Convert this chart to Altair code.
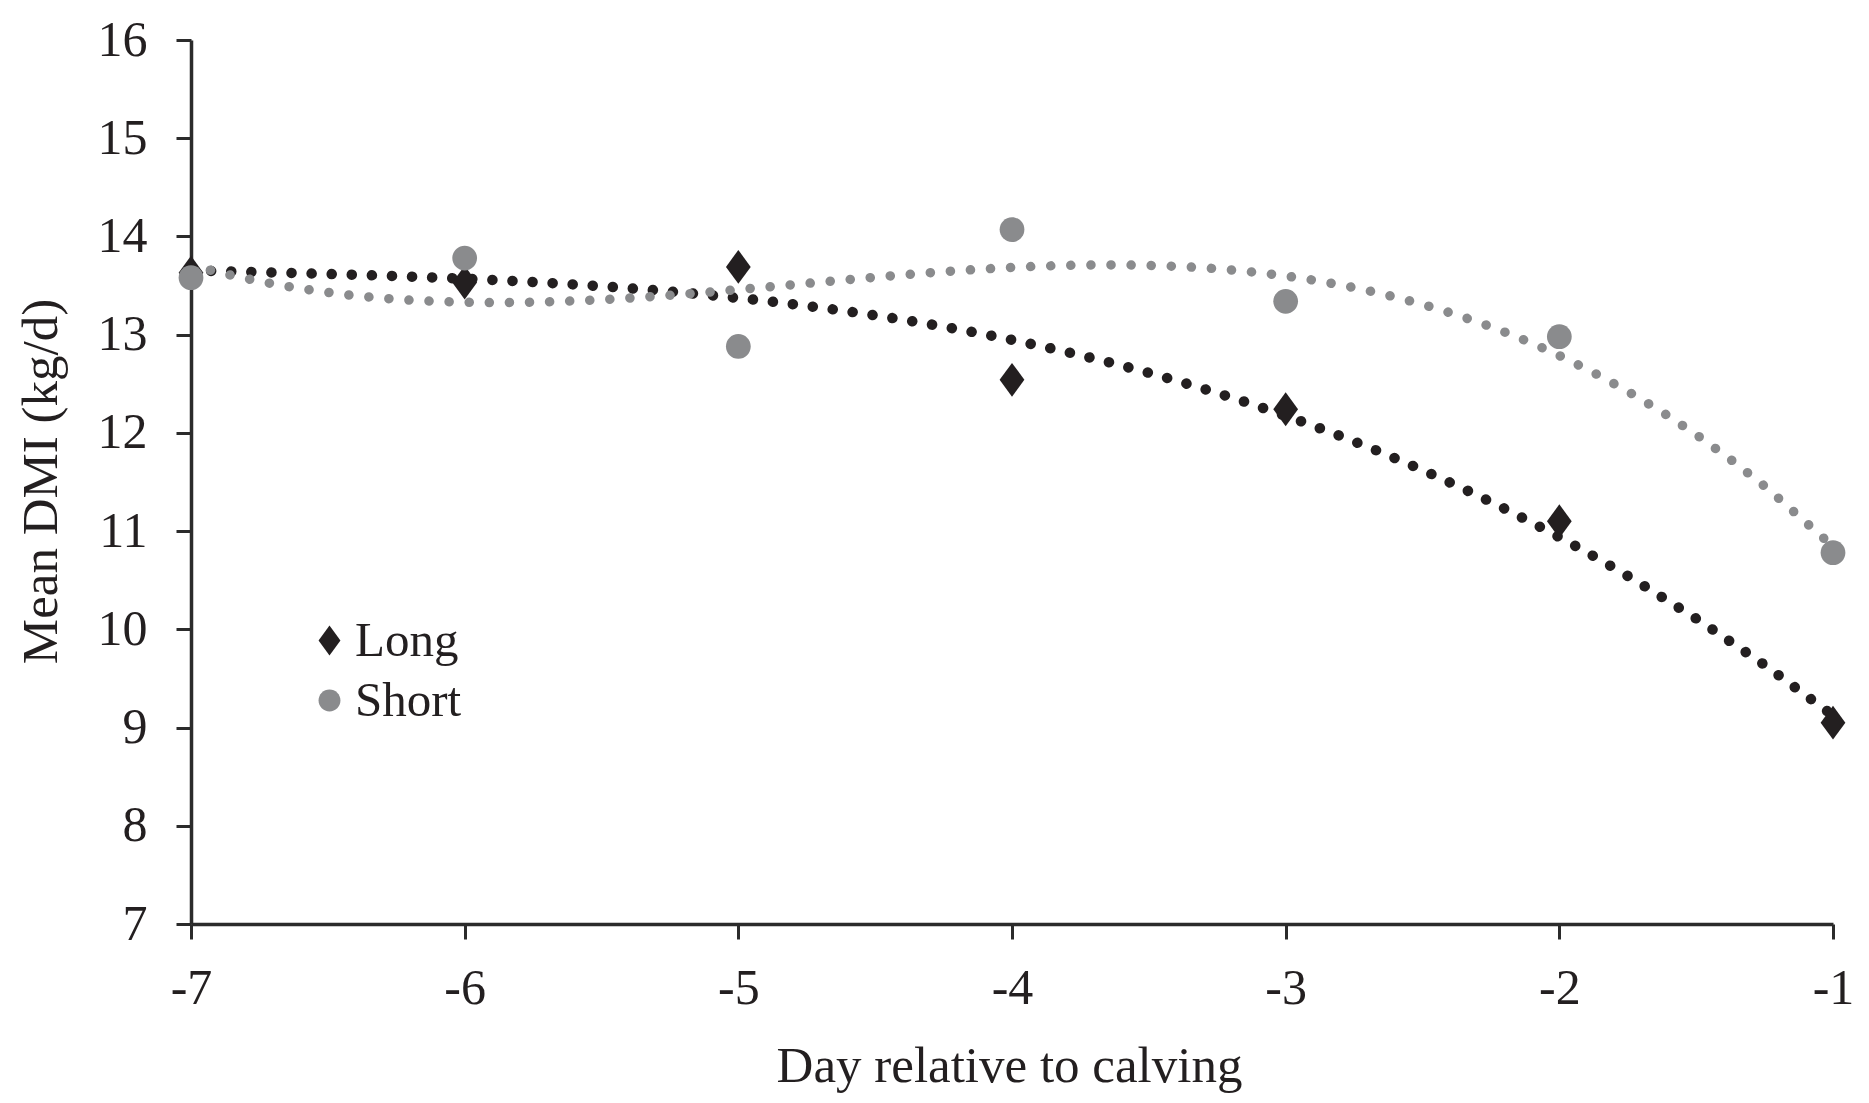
import altair as alt
import pandas as pd

# ---- data ----
days = [-7, -6, -5, -4, -3, -2, -1]
long_dmi = [13.63, 13.53, 13.69, 12.54, 12.24, 11.10, 9.05]
short_dmi = [13.58, 13.78, 12.88, 14.07, 13.34, 12.98, 10.78]
series_names = ["Long", "Short"]
x_ticks = [-7, -6, -5, -4, -3, -2, -1]
y_ticks = [7, 8, 9, 10, 11, 12, 13, 14, 15, 16]

df = pd.DataFrame({
    "day": days + days,
    "dmi": long_dmi + short_dmi,
    "series": [series_names[0]] * len(days) + [series_names[1]] * len(days),
})

BLACK = "#231f20"
GREY = "#8a8b8d"
AXIS = "#2b2b2b"
FONT = "Liberation Serif"

diamond = "M0,-1L0.73,0L0,1L-0.73,0Z"
circle = "M0.73,0A0.73,0.73 0 1,1 -0.73,0A0.73,0.73 0 1,1 0.73,0Z"

x = alt.X(
    "day:Q",
    scale=alt.Scale(domain=[-7, -1], nice=False, zero=False),
    axis=alt.Axis(
        values=x_ticks, title="Day relative to calving", labelPadding=24,
        labelFlush=False, labelExpr="toString(datum.value)",
        titleX=818, titleY=157, titleBaseline="alphabetic", titleAlign="center",
    ),
)
y = alt.Y(
    "dmi:Q",
    scale=alt.Scale(domain=[7, 16], nice=False, zero=False),
    axis=alt.Axis(
        values=y_ticks, title="Mean DMI (kg/d)", labelPadding=29,
        labelFlush=False, labelExpr="toString(datum.value)",
        titleX=-135, titleY=441, titleAngle=270,
        titleBaseline="alphabetic", titleAlign="center",
    ),
)

base = alt.Chart(df)

trend_long = (
    base.transform_filter(alt.datum.series == "Long")
    .transform_regression("day", "dmi", method="poly", order=3, extent=[-7, -1])
    .mark_line(color=BLACK, strokeWidth=10.5, strokeDash=[0.1, 20], strokeCap="round")
    .encode(x=x, y=y)
)
trend_short = (
    base.transform_filter(alt.datum.series == "Short")
    .transform_regression("day", "dmi", method="poly", order=3, extent=[-7, -1])
    .mark_line(color=GREY, strokeWidth=9.5, strokeDash=[0.1, 20], strokeCap="round")
    .encode(x=x, y=y)
)

points = base.mark_point(filled=True, opacity=1, strokeWidth=0, size=1150).encode(
    x=x,
    y=y,
    shape=alt.Shape("series:N", scale=alt.Scale(domain=series_names, range=[diamond, circle]),
                    legend=alt.Legend(title=None)),
    color=alt.Color("series:N", scale=alt.Scale(domain=series_names, range=[BLACK, GREY]),
                    legend=alt.Legend(title=None)),
)

chart = (
    alt.layer(trend_long, trend_short, points)
    .properties(
        width=1642,
        height=884,
        autosize=alt.AutoSizeParams(type="none"),
        padding={"left": 183, "top": 32, "right": 26, "bottom": 171},
    )
    .configure_view(stroke=None)
    .configure_axis(
        grid=False,
        domainColor=AXIS,
        domainWidth=3.5,
        tickColor=AXIS,
        tickWidth=3,
        tickSize=15,
        labelFont=FONT,
        labelFontSize=50,
        labelColor=BLACK,
        labelOverlap=False,
        titleFont=FONT,
        titleFontSize=51,
        titleFontWeight="normal",
        titleColor=BLACK,
    )
    .configure_legend(
        orient="none",
        legendX=114,
        legendY=576,
        padding=0,
        labelFont=FONT,
        labelFontSize=49,
        labelColor=BLACK,
        symbolSize=900,
        symbolStrokeWidth=0,
        symbolOpacity=1,
        labelOffset=1,
        rowPadding=10,
    )
)

chart.save("out.html", embed_options={"renderer": "svg", "actions": False})
